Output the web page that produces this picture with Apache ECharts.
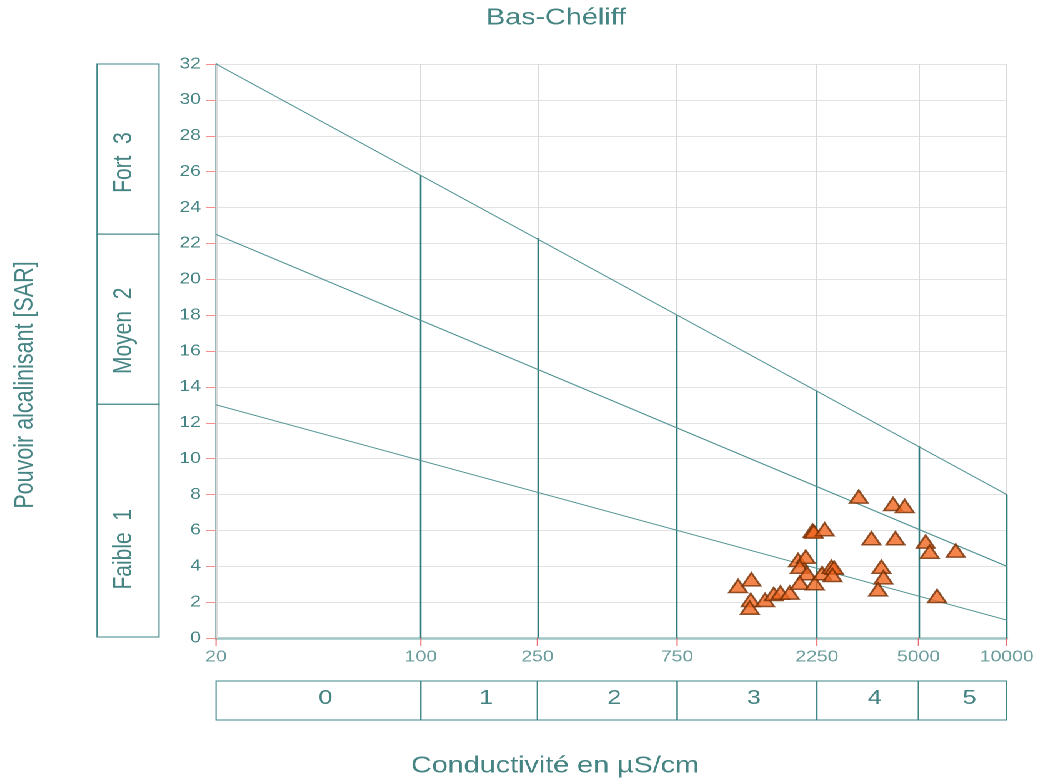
<!DOCTYPE html>
<html>
<head>
<meta charset="utf-8">
<title>Bas-Chéliff</title>
<script src="https://cdn.jsdelivr.net/npm/echarts@6/dist/echarts.min.js"></script>
<style>
  html, body { margin: 0; padding: 0; background: #ffffff; overflow: hidden; }
  /* the drawing is laid out narrower and widened horizontally */
  #chart { width: 831.2px; height: 778px; transform: scaleX(1.25); transform-origin: 0 0; }
</style>
</head>
<body>
<div id="chart"></div>
<script>
// Conductivity class boundaries (µS/cm) and their tick labels
const COND_TICKS = [20, 100, 250, 750, 2250, 5000, 10000];
const COND_CLASS_LABELS = ['0', '1', '2', '3', '4', '5'];

// SAR (alkalinity hazard) bands
const SAR_BOUNDS = [0, 13, 22.5, 32];
const SAR_BAND_LABELS = ['Faible  1', 'Moyen  2', 'Fort  3'];
const SAR_BAND_LABEL_AT = [4.9, 17.1, 26.5];

// Oblique class limits: [start, end] as [conductivity, SAR]
const LIMIT_LOW = [[20, 13], [10000, 1]];
const LIMIT_MID = [[20, 22.5], [10000, 4]];
const LIMIT_HIGH = [[20, 32], [10000, 8]];

// Height of each vertical divider (at COND_TICKS[1..]) up to the upper limit
const DIVIDER_TOPS = [25.8, 22.3, 18.0, 13.8, 10.7, 8];

// Water samples
const SAMPLE_EC = [3127, 4094, 4488, 3454, 4172, 5292, 5462, 6700, 3737, 3796, 3639, 5784,
  1211, 1345, 1338, 1328, 1497, 1603, 1690, 1818, 1941, 2062, 1967, 2083, 1967, 2213,
  2174, 2196, 2393, 2344, 2523, 2576, 2543];
const SAMPLE_SAR = [7.88, 7.47, 7.36, 5.56, 5.56, 5.37, 4.81, 4.87, 3.97, 3.38, 2.71, 2.34,
  2.90, 3.27, 2.12, 1.69, 2.12, 2.45, 2.53, 2.53, 4.35, 4.53, 3.97, 3.61, 3.08, 3.05,
  5.98, 5.93, 6.06, 3.61, 3.97, 3.92, 3.51];

const TEAL_TEXT = '#468484';
const TEAL_LINE = '#3f8585';
const FONT = "'Liberation Sans', Arial, sans-serif";

const chart = echarts.init(document.getElementById('chart'), null, { devicePixelRatio: 2 });

const samples = SAMPLE_EC.map((ec, i) => [ec, SAMPLE_SAR[i]]);
const gridVerticals = COND_TICKS.map(v => ({ coords: [[v, 0], [v, 32]] }));
const dividers = COND_TICKS.slice(1).map((v, i) => ({ coords: [[v, 0], [v, DIVIDER_TOPS[i]]] }));
const limits = [LIMIT_LOW, LIMIT_MID, LIMIT_HIGH].map(seg => ({ coords: seg }));
const sarBands = SAR_BAND_LABELS.map((_, i) => [SAR_BOUNDS[i], SAR_BOUNDS[i + 1], SAR_BAND_LABEL_AT[i]]);
const condClasses = COND_CLASS_LABELS.map((_, i) => [COND_TICKS[i], COND_TICKS[i + 1]]);

const option = {
  backgroundColor: '#ffffff',
  animation: false,
  grid: [
    { left: 172.8, right: 25.6, top: 64, bottom: 140 },
    { left: 77.6, width: 49.6, top: 64, bottom: 141 },
    { left: 172.8, right: 25.6, top: 681, height: 39 }
  ],
  xAxis: [
    {
      type: 'log', gridIndex: 0, logBase: 10, min: 20, max: 10000,
      axisLine: { show: true, onZero: false, lineStyle: { color: '#9fc5c5', width: 2.5 } },
      axisTick: { show: false }, axisLabel: { show: false }, splitLine: { show: false }
    },
    { type: 'value', gridIndex: 1, min: 0, max: 1, show: false },
    { type: 'log', gridIndex: 2, logBase: 10, min: 20, max: 10000, show: false }
  ],
  yAxis: [
    {
      type: 'value', gridIndex: 0, min: 0, max: 32, interval: 2,
      axisLine: { show: true, lineStyle: { color: '#2f7676', width: 1.5 } },
      axisTick: { show: true, length: 8, lineStyle: { color: '#f29090', width: 1 } },
      axisLabel: { color: TEAL_TEXT, fontSize: 15.5, fontFamily: FONT, margin: 12 },
      splitLine: { show: true, lineStyle: { color: '#e2e2e2', width: 1 } }
    },
    { type: 'value', gridIndex: 1, min: 0, max: 32, show: false },
    { type: 'value', gridIndex: 2, min: 0, max: 1, show: false }
  ],
  graphic: [
    {
      type: 'text', x: 444.8, y: 18, z: 10,
      style: { text: 'Bas-Chéliff', fill: TEAL_TEXT, fontSize: 23, fontFamily: FONT, align: 'center', verticalAlign: 'middle' }
    },
    {
      type: 'text', x: 444, y: 766, z: 10,
      style: { text: 'Conductivité en µS/cm', fill: TEAL_TEXT, fontSize: 23, fontFamily: FONT, align: 'center', verticalAlign: 'middle' }
    },
    {
      type: 'text', x: 20, y: 385, rotation: Math.PI / 2, z: 10,
      style: { text: 'Pouvoir alcalinisant [SAR]', fill: TEAL_TEXT, fontSize: 21.5, fontFamily: FONT, align: 'center', verticalAlign: 'middle' }
    }
  ],
  series: [
    {
      // light vertical grid at each conductivity boundary
      type: 'lines', coordinateSystem: 'cartesian2d', xAxisIndex: 0, yAxisIndex: 0,
      silent: true, z: 1, data: gridVerticals,
      lineStyle: { color: '#dadada', width: 1, opacity: 1 }
    },
    {
      // vertical class dividers up to the upper limit
      type: 'lines', coordinateSystem: 'cartesian2d', xAxisIndex: 0, yAxisIndex: 0,
      silent: true, z: 2, data: dividers,
      lineStyle: { color: '#2f7a7a', width: 1.3, opacity: 1 }
    },
    {
      // oblique SAR class limits
      type: 'lines', coordinateSystem: 'cartesian2d', xAxisIndex: 0, yAxisIndex: 0,
      silent: true, z: 2, data: limits,
      lineStyle: { color: '#4f9292', width: 1, opacity: 1 }
    },
    {
      // conductivity ticks and tick labels
      type: 'scatter', xAxisIndex: 0, yAxisIndex: 0, clip: false, silent: true, z: 3,
      data: COND_TICKS.map(v => [v, 0]),
      symbol: 'rect', symbolSize: [1, 8], symbolOffset: [0, 4],
      itemStyle: { color: '#e8454a' },
      label: {
        show: true, position: 'bottom', distance: 3,
        formatter: p => String(p.value[0]),
        color: TEAL_TEXT, fontSize: 15.5, fontFamily: FONT
      }
    },
    {
      name: 'Bas-Chéliff', type: 'scatter', xAxisIndex: 0, yAxisIndex: 0, z: 5,
      data: samples,
      symbol: 'triangle', symbolSize: [14.5, 13],
      itemStyle: { color: '#f0651f', borderColor: '#733005', borderWidth: 1.6 }
    },
    {
      // SAR hazard band boxes on the left
      type: 'custom', xAxisIndex: 1, yAxisIndex: 1, silent: true,
      encode: { x: -1, y: [0, 1] },
      data: sarBands,
      renderItem: (params, api) => {
        const lo = api.value(0), hi = api.value(1), at = api.value(2);
        const p0 = api.coord([0, hi]);
        const p1 = api.coord([1, lo]);
        const pl = api.coord([0.5, at]);
        return {
          type: 'group',
          children: [
            {
              type: 'rect',
              shape: { x: p0[0], y: p0[1], width: p1[0] - p0[0], height: p1[1] - p0[1] },
              style: { fill: 'none', stroke: TEAL_LINE, lineWidth: 1 }
            },
            {
              type: 'text', x: pl[0] - 3, y: pl[1], rotation: Math.PI / 2,
              style: {
                text: SAR_BAND_LABELS[params.dataIndex], fill: TEAL_TEXT,
                fontSize: 21, fontFamily: FONT, align: 'center', verticalAlign: 'middle'
              }
            }
          ]
        };
      }
    },
    {
      // conductivity class boxes below the plot
      type: 'custom', xAxisIndex: 2, yAxisIndex: 2, silent: true,
      encode: { x: [0, 1], y: -1 },
      data: condClasses,
      renderItem: (params, api) => {
        const p0 = api.coord([api.value(0), 1]);
        const p1 = api.coord([api.value(1), 0]);
        return {
          type: 'group',
          children: [
            {
              type: 'rect',
              shape: { x: p0[0], y: p0[1], width: p1[0] - p0[0], height: p1[1] - p0[1] },
              style: { fill: 'none', stroke: TEAL_LINE, lineWidth: 1 }
            },
            {
              type: 'text', x: (p0[0] + p1[0]) / 2 + 5.6, y: (p0[1] + p1[1]) / 2 - 2,
              style: {
                text: COND_CLASS_LABELS[params.dataIndex], fill: TEAL_TEXT,
                fontSize: 20, fontFamily: FONT, align: 'center', verticalAlign: 'middle'
              }
            }
          ]
        };
      }
    }
  ]
};

chart.setOption(option);
</script>
</body>
</html>
